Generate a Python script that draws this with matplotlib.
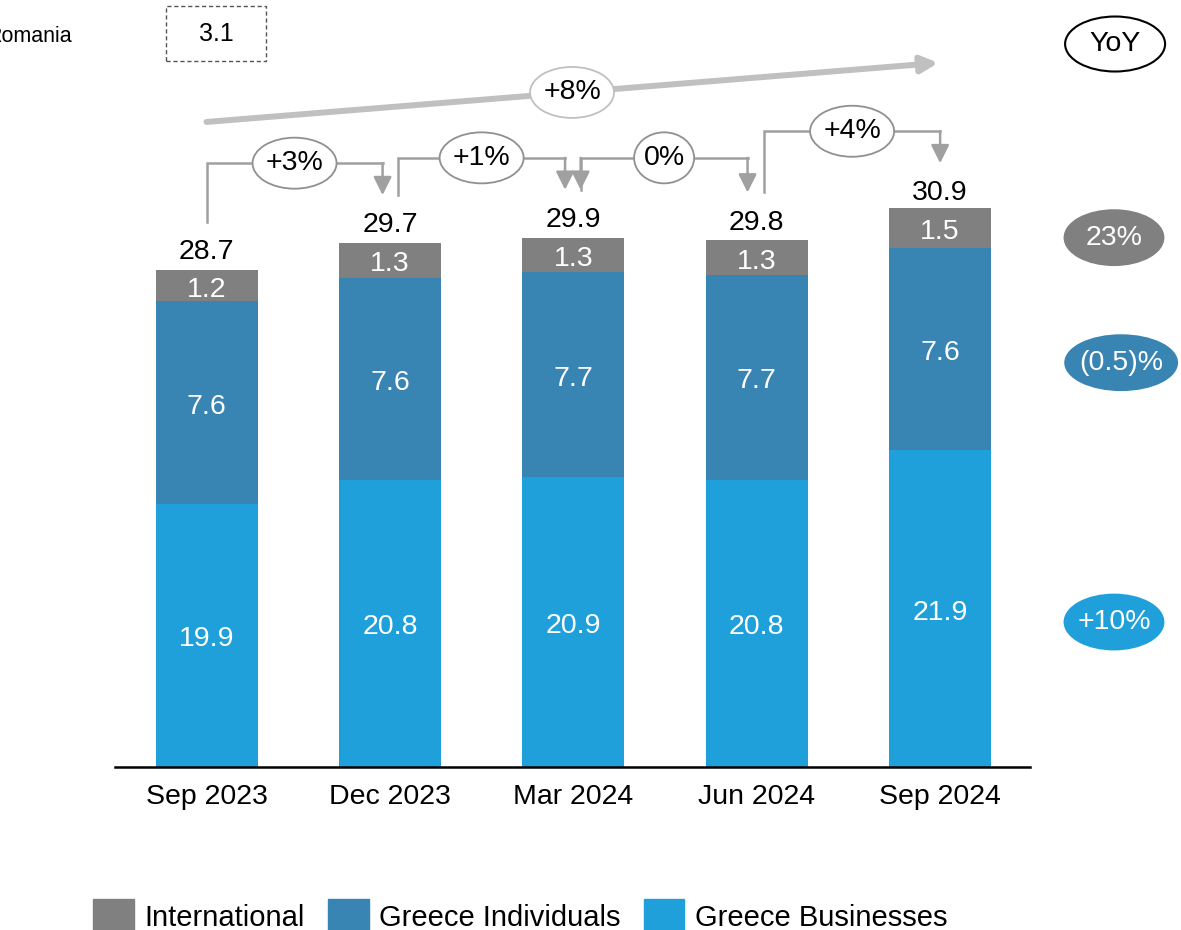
import numpy as np
import matplotlib
matplotlib.use("Agg")
import matplotlib.pyplot as plt
from matplotlib import patches as mpatches

plt.rcParams['font.family'] = ['Liberation Sans', 'DejaVu Sans']

periods = ['Sep 2023', 'Dec 2023', 'Mar 2024', 'Jun 2024', 'Sep 2024']
businesses = [19.9, 20.8, 20.9, 20.8, 21.9]
individuals = [7.6, 7.6, 7.7, 7.7, 7.6]
international = [1.2, 1.3, 1.3, 1.3, 1.5]
totals = [28.7, 29.7, 29.9, 29.8, 30.9]
qoq_growth = ['+3%', '+1%', '0%', '+4%']
yoy_total = '+8%'
# international, individuals, businesses
yoy_segments = ['23%', '(0.5)%', '+10%']
romania = 3.1

c_int = '#808080'
c_ind = '#3884b3'
c_bus = '#1fa0da'
c_conn = '#a0a0a0'
c_big = '#c0c0c0'
fs = 20.5

W, H = 1181, 930
fig = plt.figure(figsize=(W / 100, H / 100), dpi=100)
ax = fig.add_axes([115 / W, 163 / H, 915 / W, 767 / H])
y0 = 10
ax.set_xlim(-0.499, 4.49)
ax.set_ylim(y0, y0 + 767 / 26.6)

x = np.arange(len(periods))
bw = 0.556
bus = np.array(businesses)
ind = np.array(individuals)
intl = np.array(international)
ax.bar(x, bus, width=bw, color=c_bus)
ax.bar(x, ind, bottom=bus, width=bw, color=c_ind)
ax.bar(x, intl, bottom=bus + ind, width=bw, color=c_int)

# segment values, centred on the visible part of each segment
dy = -0.15
for i in x:
    ax.text(i, (y0 + bus[i]) / 2 + dy, f'{bus[i]:.1f}', color='white', fontsize=fs,
            ha='center', va='center')
    ax.text(i, bus[i] + ind[i] / 2 + dy, f'{ind[i]:.1f}', color='white',
            fontsize=fs, ha='center', va='center')
    ax.text(i, bus[i] + ind[i] + intl[i] / 2 + dy, f'{intl[i]:.1f}', color='white',
            fontsize=fs, ha='center', va='center')
    ax.text(i, totals[i] + 0.4, f'{totals[i]:.1f}', color='black', fontsize=fs,
            ha='center', va='baseline')

ax.set_xticks(x)
ax.set_xticklabels(periods, fontsize=fs)
ax.tick_params(axis='x', length=0, pad=12)
ax.yaxis.set_visible(False)
for s in ['top', 'left', 'right']:
    ax.spines[s].set_visible(False)
ax.spines['bottom'].set_linewidth(1.8)
ax.spines['bottom'].set_color('black')

sx = 1 / 183.4   # data units per pixel, x
sy = 1 / 26.6    # data units per pixel, y

head = '-|>,head_length=1.1,head_width=0.55'


def down_arrow(xa, ytop, ytip):
    ax.annotate('', xy=(xa, ytip), xytext=(xa, ytop), annotation_clip=False,
                arrowprops=dict(arrowstyle=head, color=c_conn, lw=1.8,
                                shrinkA=0, shrinkB=0, mutation_scale=10))


def bubble(cx, cy, w, h, text, edge, face='white', tcolor='black', lw=1.3):
    e = mpatches.Ellipse((cx, cy), w * sx, h * sy, facecolor=face, edgecolor=edge,
                         lw=lw, clip_on=False, zorder=5)
    ax.add_patch(e)
    ax.text(cx, cy, text, ha='center', va='center', fontsize=fs, color=tcolor,
            zorder=6, clip_on=False)


# quarter-on-quarter connectors
starts = [0.0, 1.045, 2.04, 3.04]
ends = [0.96, 1.955, 2.95, 4.0]
gap = 1.8
for k in range(4):
    ya = totals[k] + gap
    yb = totals[k + 1] + gap
    ytop = max(ya, yb) + 1.2
    ax.plot([starts[k], starts[k], ends[k]], [ya, ytop, ytop], color=c_conn,
            lw=1.8, clip_on=False, solid_joinstyle='miter')
    down_arrow(ends[k], ytop, yb)
    if k == 2:
        down_arrow(starts[k], ytop, ya)
    w = 60 if qoq_growth[k] == '0%' else 84
    bubble((starts[k] + ends[k]) / 2, ytop, w, 51, qoq_growth[k], '#909090')

# year-on-year arrow across the whole period
xa, ya = 0.0, 34.25
xb, yb = 3.99, 36.47
ax.annotate('', xy=(xb, yb), xytext=(xa, ya), annotation_clip=False,
            arrowprops=dict(arrowstyle='-|>,head_length=1.0,head_width=0.5',
                            color=c_big, lw=4.3, shrinkA=0, shrinkB=0,
                            mutation_scale=10))
cx = 1.993
bubble(cx, ya + (yb - ya) * (cx - xa) / (xb - xa), 84, 51, yoy_total, c_big)

# YoY column on the right
top = bus + ind + intl
bubble(4.954, 37.18, 100, 55, 'YoY', 'black', lw=1.5)
bubble(4.948, top[4] - intl[4] / 2 - 0.35, 99, 55, yoy_segments[0], c_int,
       face=c_int, tcolor='white')
bubble(4.987, bus[4] + ind[4] / 2 - 0.5, 112, 55, yoy_segments[1], c_ind,
       face=c_ind, tcolor='white')
bubble(4.948, (y0 + bus[4]) / 2 - 0.5, 99, 55, yoy_segments[2], c_bus,
       face=c_bus, tcolor='white')

# Romania box in the top left corner
ax.text(-1.202, 37.48, 'Romania', fontsize=15.5, ha='left', va='center',
        clip_on=False)
box = mpatches.Rectangle((-0.2208, 36.54), 100 * sx, 55 * sy, facecolor='none',
                         edgecolor='#555555', lw=1.0, ls=(0, (3, 2)), clip_on=False)
ax.add_patch(box)
ax.text(-0.2208 + 50 * sx, 36.54 + 27.5 * sy, f'{romania:.1f}', fontsize=18,
        ha='center', va='center', clip_on=False)

handles = [mpatches.Patch(color=c_int), mpatches.Patch(color=c_ind),
           mpatches.Patch(color=c_bus)]
fig.legend(handles, ['International', 'Greece Individuals', 'Greece Businesses'],
           loc='center left', bbox_to_anchor=(93 / W, 1 - 916 / H), ncol=3,
           frameon=False, fontsize=21, handlelength=1.4, handleheight=1.4,
           handletextpad=0.35, columnspacing=0.8, borderpad=0, borderaxespad=0)

fig.savefig('out.png', dpi=100)
